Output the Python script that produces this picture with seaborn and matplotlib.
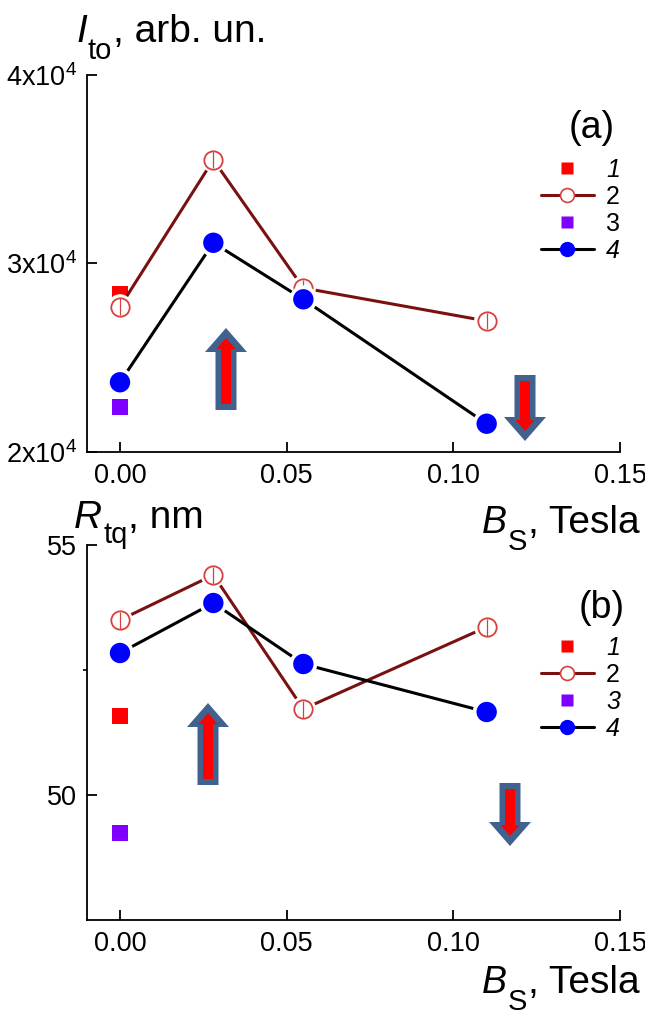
import matplotlib
matplotlib.use("Agg")
import matplotlib.pyplot as plt
import seaborn as sns
import numpy as np
import pandas as pd
from matplotlib.lines import Line2D
from matplotlib.patches import Polygon

# ---------------- data ----------------
field_tesla = [0.0, 0.028, 0.055, 0.11]
field_single = [0.0]

ito_s1 = [28400]
ito_s2 = [27700, 35500, 28700, 26950]
ito_s3 = [22400]
ito_s4 = [23700, 31100, 28100, 21500]
ito_err2 = [450, 450, 450, 450]

rtq_s1 = [51.58]
rtq_s2 = [53.50, 54.40, 51.72, 53.36]
rtq_s3 = [49.24]
rtq_s4 = [52.84, 53.84, 52.62, 51.66]
rtq_err2 = [0.17, 0.17, 0.17, 0.17]

x_ticks = [0.0, 0.05, 0.10, 0.15]
x_tick_labels = ["0.00", "0.05", "0.10", "0.15"]
ito_ticks = [20000, 30000, 40000]
ito_tick_labels = [r"2x10$^{4}$", r"3x10$^{4}$", r"4x10$^{4}$"]
rtq_ticks = [50, 55]
rtq_tick_labels = ["50", "55"]
legend_labels = ["1", "2", "3", "4"]

# ---------------- style ----------------
sns.set_theme(style="ticks")
plt.rcParams['font.family'] = ['Liberation Sans', 'DejaVu Sans']
plt.rcParams['mathtext.fontset'] = 'custom'
plt.rcParams['mathtext.rm'] = 'Liberation Sans'
plt.rcParams['mathtext.it'] = 'Liberation Sans:italic'
plt.rcParams['mathtext.bf'] = 'Liberation Sans:bold'
for k in ('text.color', 'axes.labelcolor', 'xtick.color', 'ytick.color',
          'axes.edgecolor'):
    plt.rcParams[k] = 'black'

NARROW = ['Liberation Sans Narrow', 'DejaVu Sans Condensed', 'Liberation Sans']
RED = '#ff0000'
PURPLE = '#7f00ff'
BLUE = '#0000ff'
DARKRED = '#7a1111'
LIGHTRED = '#d8403c'
ARROW_EDGE = '#41618e'
TICK_FS = 19.5

W, H = 645, 1016
fig = plt.figure(figsize=(W / 100, H / 100), dpi=100)
ax1 = fig.add_axes([87 / W, 1 - 452 / H, 533 / W, 377 / H])
ax2 = fig.add_axes([87 / W, 1 - 920 / H, 533 / W, 375 / H])


def draw_panel(ax, s1, s2, s3, s4, err2):
    sns.scatterplot(x=field_single, y=s1, ax=ax, marker='s', s=135,
                    color=RED, edgecolor='none', zorder=3)
    sns.scatterplot(x=field_single, y=s3, ax=ax, marker='s', s=135,
                    color=PURPLE, edgecolor='none', zorder=3)
    # series 2: dark red line, hollow circles with error bars
    sns.lineplot(x=field_tesla, y=s2, ax=ax, color=DARKRED, lw=2.2, zorder=4)
    sns.scatterplot(x=field_tesla, y=s2, ax=ax, marker='o', s=330,
                    color='white', edgecolor='none', zorder=5)
    sns.scatterplot(x=field_tesla, y=s2, ax=ax, marker='o', s=175,
                    color='white', edgecolor=LIGHTRED, linewidth=1.3, zorder=6)
    ax.errorbar(field_tesla, s2, yerr=err2, fmt='none', ecolor=LIGHTRED,
                elinewidth=0.9, capsize=0, zorder=7)
    # series 4: black line, blue circles
    sns.lineplot(x=field_tesla, y=s4, ax=ax, color='black', lw=2.2, zorder=8)
    sns.scatterplot(x=field_tesla, y=s4, ax=ax, marker='o', s=400,
                    color='white', edgecolor='none', zorder=9)
    sns.scatterplot(x=field_tesla, y=s4, ax=ax, marker='o', s=215,
                    color=BLUE, edgecolor='none', zorder=10)


draw_panel(ax1, ito_s1, ito_s2, ito_s3, ito_s4, ito_err2)
draw_panel(ax2, rtq_s1, rtq_s2, rtq_s3, rtq_s4, rtq_err2)

ax1.set_ylim(20000, 40000)
ax1.set_yticks(ito_ticks)
ax1.set_yticklabels(ito_tick_labels)

ax2.set_ylim(47.5, 55)
ax2.set_yticks(rtq_ticks)
ax2.set_yticklabels(rtq_tick_labels)
ax2.set_yticks([52.5], minor=True)

for ax in (ax1, ax2):
    sns.despine(ax=ax)
    for sp in ('left', 'bottom'):
        ax.spines[sp].set_linewidth(1.3)
        ax.spines[sp].set_color('black')
    ax.set_xlim(-0.0099, 0.15)
    ax.set_xticks(x_ticks)
    ax.set_xticklabels(x_tick_labels)
    ax.tick_params(which='major', direction='in', length=7, width=1.3,
                   color='black', labelcolor='black')
    ax.tick_params(axis='x', pad=8)
    ax.tick_params(axis='y', pad=7)
    ax.set_xlabel('')
    ax.set_ylabel('')
    for lab in ax.get_xticklabels() + ax.get_yticklabels():
        lab.set_fontfamily(NARROW)
        lab.set_fontsize(TICK_FS)

ax2.tick_params(axis='y', which='minor', direction='out', length=3, width=1.2)


# legends
def make_handles():
    return [
        Line2D([], [], ls='none', marker='s', ms=8, color=RED, mec='none'),
        Line2D([], [], color=DARKRED, lw=2.2, marker='o', ms=10, mfc='white',
               mec=LIGHTRED, mew=1.2),
        Line2D([], [], ls='none', marker='s', ms=8, color=PURPLE, mec='none'),
        Line2D([], [], color='black', lw=2.2, marker='o', ms=10, mfc=BLUE,
               mec=BLUE),
    ]


def add_legend(ax, anchor_y, styles):
    leg = ax.legend(make_handles(), legend_labels, loc='upper right',
                    bbox_to_anchor=(1.0, anchor_y), frameon=False, fontsize=18,
                    handlelength=2.1, handletextpad=0.5, labelspacing=0.12,
                    borderaxespad=0, borderpad=0)
    for t, st in zip(leg.get_texts(), styles):
        t.set_fontstyle(st)
        t.set_color('black')


add_legend(ax1, 0.78, ['italic', 'normal', 'normal', 'italic'])
add_legend(ax2, 0.758, ['italic', 'normal', 'italic', 'italic'])

ax1.text(0.947, 0.86, '(a)', transform=ax1.transAxes, fontsize=27,
         ha='center', va='center', color='black')
ax2.text(0.965, 0.833, '(b)', transform=ax2.transAxes, fontsize=27,
         ha='center', va='center', color='black')

# axis titles composed of pieces (italic symbol + lowered subscript)
renderer = fig.canvas.get_renderer()


def compose(x_px, y_px, parts, ha='left'):
    texts = []
    cur = x_px
    for s, fs, st, dy in parts:
        t = fig.text(cur / W, 1 - (y_px + dy) / H, s, fontsize=fs,
                     fontstyle=st, ha='left', va='baseline', color='black')
        cur += t.get_window_extent(renderer).width + 1
        texts.append(t)
    if ha == 'right':
        shift = (cur - x_px) / W
        for t in texts:
            px, py = t.get_position()
            t.set_position((px - shift, py))


compose(76, 42, [("I", 28, 'italic', 0), ("to", 21, 'normal', 17),
                 (", arb. un.", 28, 'normal', 0)])
compose(74, 528, [("R", 28, 'italic', 0), ("tq", 21, 'normal', 15),
                  (", nm", 28, 'normal', 0)])
compose(641, 533, [("B", 27, 'italic', 0), ("S", 21, 'normal', 17),
                   (", Tesla", 28, 'normal', 0)], ha='right')
compose(641, 993, [("B", 27, 'italic', 0), ("S", 21, 'normal', 17),
                   (", Tesla", 28, 'normal', 0)], ha='right')


# block arrows (annotations, in figure pixel units)
def block_arrow(cx, y_tail, y_tip):
    sgn = 1 if y_tip > y_tail else -1  # +1: pointing down in image

    def shape(half_shaft, half_head, head_len, tail, tip):
        base = tip - sgn * head_len
        pts = [(cx - half_shaft, tail), (cx + half_shaft, tail),
               (cx + half_shaft, base), (cx + half_head, base),
               (cx, tip), (cx - half_head, base), (cx - half_shaft, base)]
        return [(px / W, 1 - py / H) for px, py in pts]
    outer = Polygon(shape(10.5, 21, 24, y_tail, y_tip), closed=True,
                    transform=fig.transFigure, facecolor=ARROW_EDGE,
                    edgecolor='none', zorder=20)
    inner = Polygon(shape(5, 9.5, 11, y_tail + sgn * 6, y_tip - sgn * 10),
                    closed=True, transform=fig.transFigure, facecolor=RED,
                    edgecolor='none', zorder=21)
    fig.patches.extend([outer, inner])


block_arrow(226, 410, 328)
block_arrow(525, 375, 441)
block_arrow(208, 785, 703)
block_arrow(510, 783, 846)

fig.savefig('out.png', dpi=100)
